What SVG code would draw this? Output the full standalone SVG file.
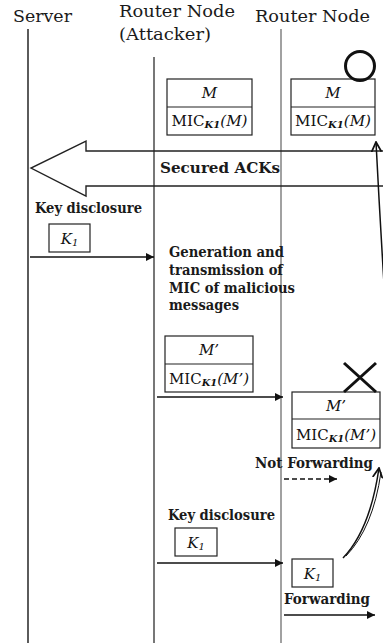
<svg xmlns="http://www.w3.org/2000/svg" width="383" height="643" viewBox="0 0 383 643">
<style>
.title{font-family:"DejaVu Serif","Liberation Serif",serif;font-size:17.5px;fill:#1a1a1a}
.lbl{font-family:"DejaVu Serif","Liberation Serif",serif;font-size:14px;font-weight:bold;fill:#1a1a1a}
.bx{font-family:"DejaVu Serif","Liberation Serif",serif;font-size:15px;fill:#111}
.it{font-style:italic}
.box{fill:#fff;stroke:#222;stroke-width:1.2}
.life{stroke-width:1.6;fill:none}
.msg{stroke:#111;stroke-width:1.5;fill:none}
</style>
<defs>
<marker id="tri" viewBox="0 0 10 10" refX="10" refY="5" markerWidth="10" markerHeight="8" markerUnits="userSpaceOnUse" orient="auto">
<path d="M0,0 L10,5 L0,10 z" fill="#111"/>
</marker>
<marker id="open" viewBox="0 0 10 10" refX="9" refY="5" markerWidth="11" markerHeight="11" markerUnits="userSpaceOnUse" orient="auto">
<path d="M0,0.5 L9,5 L0,9.5" fill="none" stroke="#111" stroke-width="1.6"/>
</marker>
</defs>

<g id="server">
<text class="title" x="13" y="22" textLength="59" lengthAdjust="spacingAndGlyphs">Server</text>
<line class="life" x1="28" y1="29" x2="28" y2="643" stroke="#333"/>
</g>
<g id="attacker">
<text class="title" x="119" y="17" textLength="116" lengthAdjust="spacingAndGlyphs">Router Node</text>
<text class="title" x="119" y="40" textLength="92" lengthAdjust="spacingAndGlyphs">(Attacker)</text>
<line class="life" x1="154" y1="57" x2="154" y2="643" stroke="#555"/>
</g>
<g id="router">
<text class="title" x="255" y="22" textLength="115" lengthAdjust="spacingAndGlyphs">Router Node</text>
<line class="life" x1="281" y1="29" x2="281" y2="643" stroke="#8a8a8a"/>
</g>

<g id="box-m-attacker">
<rect class="box" x="167" y="79" width="85" height="56"/>
<line x1="167" y1="107" x2="252" y2="107" stroke="#222" stroke-width="1.2"/>
<text class="bx it" x="209.5" y="98" text-anchor="middle">M</text>
<text class="bx" x="209.5" y="126" text-anchor="middle" textLength="76" lengthAdjust="spacingAndGlyphs">MIC<tspan class="it" font-weight="bold" font-size="10" dy="2">K1</tspan><tspan class="it" dy="-2">(M)</tspan></text>
</g>
<g id="box-m-router">
<rect class="box" x="291" y="79" width="84" height="56"/>
<line x1="291" y1="107" x2="375" y2="107" stroke="#222" stroke-width="1.2"/>
<text class="bx it" x="333" y="98" text-anchor="middle">M</text>
<text class="bx" x="333" y="126" text-anchor="middle" textLength="76" lengthAdjust="spacingAndGlyphs">MIC<tspan class="it" font-weight="bold" font-size="10" dy="2">K1</tspan><tspan class="it" dy="-2">(M)</tspan></text>
<circle cx="360" cy="66" r="14.5" fill="none" stroke="#111" stroke-width="3"/>
</g>

<g id="acks">
<polyline points="384,151 86,151 86,141 31,168 86,196 86,186 384,186" fill="none" stroke="#222" stroke-width="1.4"/>
<text class="lbl" x="160" y="173" font-size="15" textLength="120" lengthAdjust="spacingAndGlyphs">Secured ACKs</text>
</g>

<g id="key1">
<text class="lbl" x="35" y="213" textLength="107" lengthAdjust="spacingAndGlyphs">Key disclosure</text>
<rect class="box" x="49" y="224" width="41" height="28"/>
<text class="bx it" x="69.5" y="244" text-anchor="middle">K<tspan font-size="10" dy="2">1</tspan></text>
</g>

<g id="gen-note">
<text class="lbl" x="169" y="257" textLength="115" lengthAdjust="spacingAndGlyphs">Generation and</text>
<text class="lbl" x="169" y="275" textLength="114" lengthAdjust="spacingAndGlyphs">transmission of</text>
<text class="lbl" x="169" y="293" textLength="126" lengthAdjust="spacingAndGlyphs">MIC of malicious</text>
<text class="lbl" x="169" y="310" textLength="70" lengthAdjust="spacingAndGlyphs">messages</text>
</g>

<g id="box-mp-attacker">
<rect class="box" x="165" y="336" width="88" height="56"/>
<line x1="165" y1="364" x2="253" y2="364" stroke="#222" stroke-width="1.2"/>
<text class="bx it" x="209" y="355" text-anchor="middle">M’</text>
<text class="bx" x="209" y="384" text-anchor="middle" textLength="80" lengthAdjust="spacingAndGlyphs">MIC<tspan class="it" font-weight="bold" font-size="10" dy="2">K1</tspan><tspan class="it" dy="-2">(M’)</tspan></text>
</g>

<g id="box-mp-router">
<rect class="box" x="292" y="392" width="88" height="56"/>
<line x1="292" y1="419" x2="380" y2="419" stroke="#222" stroke-width="1.2"/>
<text class="bx it" x="336" y="411" text-anchor="middle">M’</text>
<text class="bx" x="336" y="440" text-anchor="middle" textLength="80" lengthAdjust="spacingAndGlyphs">MIC<tspan class="it" font-weight="bold" font-size="10" dy="2">K1</tspan><tspan class="it" dy="-2">(M’)</tspan></text>
<path d="M344,363 L376,392 M376,363 L344,392" stroke="#111" stroke-width="3" fill="none"/>
</g>

<g id="notfwd">
<text class="lbl" x="255" y="468" textLength="118" lengthAdjust="spacingAndGlyphs">Not Forwarding</text>
</g>

<g id="key2">
<text class="lbl" x="168" y="520" textLength="107" lengthAdjust="spacingAndGlyphs">Key disclosure</text>
<rect class="box" x="175" y="528" width="42" height="28"/>
<text class="bx it" x="196" y="548" text-anchor="middle">K<tspan font-size="10" dy="2">1</tspan></text>
</g>

<g id="k1-router">
<rect class="box" x="292" y="559" width="41" height="28"/>
<text class="bx it" x="312.5" y="579" text-anchor="middle">K<tspan font-size="10" dy="2">1</tspan></text>
<text class="lbl" x="284" y="604" textLength="86" lengthAdjust="spacingAndGlyphs">Forwarding</text>
</g>

<g id="connectors">
<line class="msg" x1="30" y1="257" x2="154" y2="257" marker-end="url(#tri)"/>
<line class="msg" x1="157" y1="397" x2="283" y2="397" marker-end="url(#tri)"/>
<line class="msg" x1="284" y1="479" x2="337" y2="479" stroke-dasharray="5,3" marker-end="url(#tri)"/>
<line class="msg" x1="157" y1="563" x2="283" y2="563" marker-end="url(#tri)"/>
<line class="msg" x1="284" y1="615" x2="375" y2="615" marker-end="url(#tri)"/>
<path class="msg" d="M385,300 Q380,220 376,142" marker-end="url(#open)"/>
<path class="msg" d="M343,558 Q370,530 379,468" marker-end="url(#open)"/>
<path d="M346,556 Q373,528 381,472" stroke="#111" stroke-width="1" fill="none"/>
</g>
</svg>
